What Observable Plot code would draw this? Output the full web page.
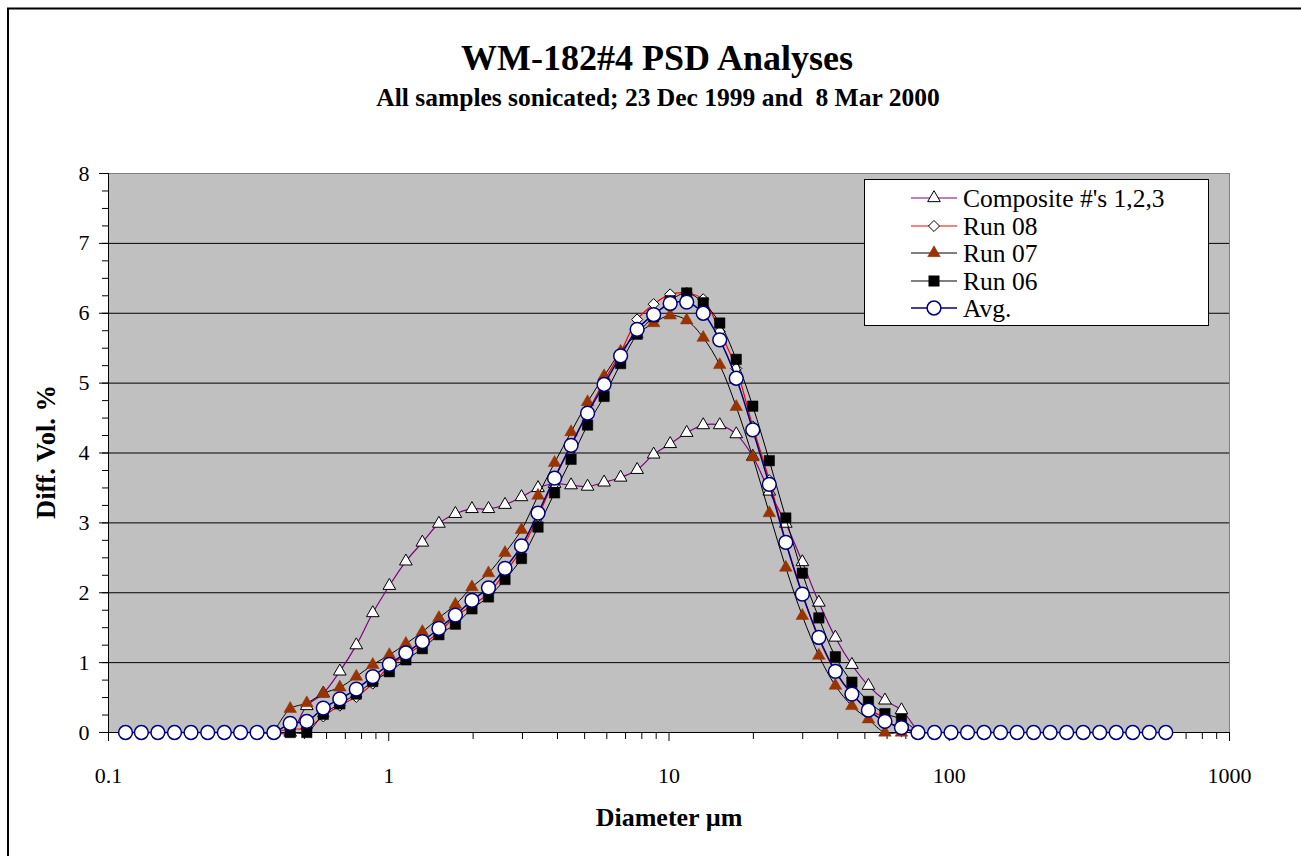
<!DOCTYPE html>
<html><head><meta charset="utf-8">
<script src="https://cdn.jsdelivr.net/npm/d3@7"></script>
<script src="https://cdn.jsdelivr.net/npm/@observablehq/plot@0.6"></script>
<style>html,body{margin:0;padding:0;background:#fff;overflow:hidden}</style>
</head><body><div id="chart"></div>
<script>
// Particle diameters (µm), Horiba-style size classes
const diameters = [0.115, 0.131, 0.150, 0.172, 0.197, 0.226, 0.259, 0.296, 0.339, 0.389,
  0.445, 0.510, 0.584, 0.669, 0.766, 0.877, 1.005, 1.151, 1.318, 1.510,
  1.729, 1.981, 2.269, 2.599, 2.976, 3.409, 3.905, 4.472, 5.122, 5.867,
  6.720, 7.697, 8.816, 10.097, 11.565, 13.246, 15.172, 17.377, 19.904, 22.797,
  26.111, 29.907, 34.255, 39.234, 44.938, 51.471, 58.953, 67.523, 77.339, 88.583,
  101.46, 116.21, 133.10, 152.45, 174.62, 200.00, 229.07, 262.37, 300.52, 344.21,
  394.24, 451.56, 517.20, 592.39];

const composite = [null, null, null, null, null, null, null, null, null, 0,
  0, 0.38, 0.56, 0.875, 1.25, 1.71, 2.10, 2.45, 2.72, 2.99,
  3.13, 3.20, 3.20, 3.26, 3.37, 3.50, 3.56, 3.54, 3.52, 3.58,
  3.65, 3.76, 3.98, 4.13, 4.29, 4.40, 4.40, 4.27, 3.95, 3.45,
  2.99, 2.44, 1.86, 1.36, 0.97, 0.67, 0.46, 0.32, 0, null,
  null, null, null, null, null, null, null, null, null, null,
  null, null, null, null];

const run08 = [null, null, null, null, null, null, null, null, null, 0,
  0.05, 0.06, 0.23, 0.385, 0.51, 0.70, 0.945, 1.11, 1.26, 1.43,
  1.66, 1.82, 1.99, 2.29, 2.62, 3.09, 3.63, 4.12, 4.58, 5.03,
  5.44, 5.91, 6.13, 6.27, 6.29, 6.20, 5.74, 5.21, 4.38, 3.61,
  2.73, 1.99, 1.34, 0.87, 0.55, 0.33, 0.21, 0.02, 0, null,
  null, null, null, null, null, null, null, null, null, null,
  null, null, null, null];

const run07 = [null, null, null, null, null, null, null, null, null, 0,
  0.34, 0.42, 0.56, 0.645, 0.80, 0.97, 1.11, 1.27, 1.44, 1.64,
  1.83, 2.08, 2.28, 2.57, 2.90, 3.39, 3.86, 4.30, 4.73, 5.10,
  5.45, 5.70, 5.86, 5.97, 5.90, 5.65, 5.26, 4.66, 3.94, 3.14,
  2.36, 1.67, 1.10, 0.67, 0.38, 0.19, 0, 0, 0, null,
  null, null, null, null, null, null, null, null, null, null,
  null, null, null, null];

const run06 = [null, null, null, null, null, null, null, null, null, 0,
  0, 0, 0.26, 0.41, 0.55, 0.73, 0.87, 1.04, 1.20, 1.40,
  1.55, 1.77, 1.94, 2.19, 2.49, 2.94, 3.43, 3.91, 4.40, 4.81,
  5.28, 5.70, 5.95, 6.18, 6.29, 6.15, 5.86, 5.34, 4.67, 3.89,
  3.07, 2.28, 1.64, 1.085, 0.72, 0.445, 0.27, 0.19, 0, null,
  null, null, null, null, null, null, null, null, null, null,
  null, null, null, null];

const avg = [0, 0, 0, 0, 0, 0, 0, 0, 0, 0,
  0.13, 0.16, 0.35, 0.48, 0.62, 0.80, 0.975, 1.14, 1.30, 1.49,
  1.68, 1.89, 2.07, 2.35, 2.67, 3.14, 3.64, 4.11, 4.57, 4.98,
  5.39, 5.77, 5.98, 6.14, 6.16, 6.00, 5.62, 5.07, 4.33, 3.55,
  2.72, 1.98, 1.36, 0.875, 0.55, 0.32, 0.16, 0.07, 0, 0,
  0, 0, 0, 0, 0, 0, 0, 0, 0, 0,
  0, 0, 0, 0];

const seriesNames = ["Composite #'s 1,2,3", "Run 08", "Run 07", "Run 06", "Avg."];
const xTickValues = [0.1, 1, 10, 100, 1000];
const xTickLabels = ["0.1", "1", "10", "100", "1000"];
const yTickValues = [0, 1, 2, 3, 4, 5, 6, 7, 8];
const yTickLabels = ["0", "1", "2", "3", "4", "5", "6", "7", "8"];
const xMinorTicks = [0.1, 1, 10, 100].flatMap(b => [2, 3, 4, 5, 6, 7, 8, 9].map(k => +(b * k).toPrecision(3)));
const yMinorTicks = d3.range(0, 8.001, 0.25);

const FONT = "'Liberation Serif', 'Times New Roman', serif";
const W = 1301, H = 856;

const styles = [
  {values: composite, line: "#800080", lw: 1.2, symbol: "triangle", r: 4.7, fill: "#ffffff", stroke: "#000000", sw: 1},
  {values: run08, line: "#ff0000", lw: 1.2, symbol: "diamond2", r: 5.0, fill: "#ffffff", stroke: "#000000", sw: 1},
  {values: run07, line: "#000000", lw: 1, symbol: "triangle", r: 4.7, fill: "#993300", stroke: "#993300", sw: 0.5},
  {values: run06, line: "#000000", lw: 1, symbol: "square", r: 5.9, fill: "#000000", stroke: "#000000", sw: 0.5},
  {values: avg, line: "#000080", lw: 1.5, symbol: "circle", r: 6.9, fill: "#ffffff", stroke: "#000080", sw: 1.5}
];

function rows(values) { return diameters.map((d, i) => ({d, v: values[i]})); }

const marks = [
  Plot.frame({fill: "#c0c0c0", stroke: "#808080"}),
  Plot.ruleY(yTickValues.filter(v => v > 0 && v < 8), {stroke: "#000", strokeWidth: 1}),
  Plot.ruleY([0], {stroke: "#000", strokeWidth: 1}),
  Plot.ruleX([0.1], {stroke: "#000", strokeWidth: 1}),
  Plot.axisX({ticks: xMinorTicks, tickSize: 7, tickFormat: () => "", label: null}),
  Plot.axisX({ticks: xTickValues, tickSize: 9, tickPadding: 26, fontSize: 22,
    tickFormat: d => xTickLabels[xTickValues.indexOf(d)], label: null}),
  Plot.axisY({ticks: yMinorTicks, tickSize: 6, tickFormat: () => "", label: null}),
  Plot.axisY({ticks: yTickValues, tickSize: 9, tickPadding: 10, fontSize: 22,
    tickFormat: d => yTickLabels[yTickValues.indexOf(d)], label: null})
];
for (const s of styles) {
  const data = rows(s.values);
  marks.push(Plot.line(data, {x: "d", y: "v", stroke: s.line, strokeWidth: s.lw, curve: "catmull-rom"}));
  marks.push(Plot.dot(data.filter(r => r.v != null), {x: "d", y: "v", symbol: s.symbol, r: s.r,
    fill: s.fill, stroke: s.stroke, strokeWidth: s.sw}));
}

const chart = Plot.plot({
  width: W, height: H,
  marginLeft: 108, marginRight: 72, marginTop: 173, marginBottom: 124,
  style: {fontFamily: FONT, fontSize: "22px", color: "#000", background: "#fff"},
  x: {type: "log", domain: [0.1, 1000]},
  y: {domain: [0, 8]},
  marks
});
document.getElementById("chart").appendChild(chart);

const svg = d3.select(chart);
// outer chart border (top and left visible)
svg.append("path").attr("d", "M8,856V8.5H1301").attr("fill", "none").attr("stroke", "#000").attr("stroke-width", 2);

function label(x, y, txt, size, weight, anchor) {
  return svg.append("text").attr("x", x).attr("y", y).attr("text-anchor", anchor || "middle")
    .attr("font-family", FONT).attr("font-weight", weight).attr("font-size", size).attr("fill", "#000")
    .style("white-space", "pre").attr("xml:space", "preserve").text(txt);
}
label(657, 70, "WM-182#4 PSD Analyses", 36, "bold");
label(658, 106, "All samples sonicated; 23 Dec 1999 and  8 Mar 2000", 25.5, "bold");
label(669, 826, "Diameter µm", 26, "bold");
svg.append("text").attr("transform", "translate(55,452) rotate(-90)").attr("text-anchor", "middle")
  .attr("font-family", FONT).attr("font-weight", "bold").attr("font-size", 26.5).attr("fill", "#000")
  .text("Diff. Vol. %");

// legend
const lg = svg.append("g");
lg.append("rect").attr("x", 864.5).attr("y", 179.5).attr("width", 344).attr("height", 146)
  .attr("fill", "#fff").attr("stroke", "#000").attr("stroke-width", 1);
const symMap = {triangle: d3.symbolTriangle, diamond2: d3.symbolDiamond2, square: d3.symbolSquare, circle: d3.symbolCircle};
const rowY = [198, 226, 253, 281, 308];
seriesNames.forEach((name, i) => {
  const s = styles[i], y = rowY[i];
  lg.append("line").attr("x1", 911).attr("x2", 957).attr("y1", y).attr("y2", y)
    .attr("stroke", s.line).attr("stroke-width", s.lw);
  lg.append("path").attr("transform", `translate(934,${y})`)
    .attr("d", d3.symbol(symMap[s.symbol], Math.PI * s.r * s.r)())
    .attr("fill", s.fill).attr("stroke", s.stroke).attr("stroke-width", s.sw);
  lg.append("text").attr("x", 963).attr("y", y + 8.5).attr("text-anchor", "start")
    .attr("font-family", FONT).attr("font-size", 25.5).attr("fill", "#000").text(name);
});
</script>
</body></html>
